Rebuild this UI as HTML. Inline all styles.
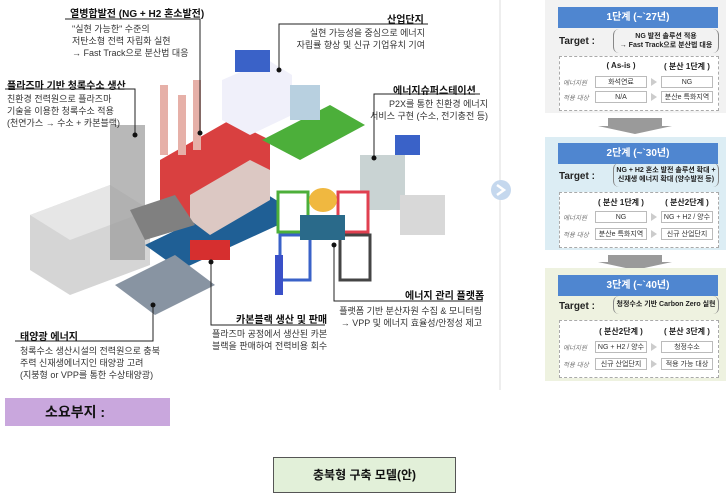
<!DOCTYPE html>
<html><head><meta charset="utf-8"><style>
*{margin:0;padding:0;box-sizing:border-box}
body{width:726px;height:496px;background:#fff;position:relative;overflow:hidden;font-family:"Liberation Sans","Noto Sans CJK KR",sans-serif;color:#333}
.t{position:absolute;font-size:9px;line-height:12px;white-space:nowrap}
.h{position:absolute;font-size:10px;font-weight:bold;color:#111;white-space:nowrap}
.r{text-align:right}
.stage{position:absolute;left:545px;width:181px}
.hd{position:absolute;left:13px;width:160px;height:21px;background:#4f86d0;color:#fff;font-weight:bold;font-size:10px;text-align:center;line-height:21px}
.tg{position:absolute;left:14px;font-weight:bold;font-size:10px;color:#222}
.br{position:absolute;left:68px;width:106px;border-left:1.5px solid #888;border-right:1.5px solid #888;border-radius:6px;font-size:7px;font-weight:bold;text-align:center;line-height:9px;color:#222}
.dash{position:absolute;left:14px;width:160px;border:1px dashed #aaa;background:#fff}
.c{position:absolute;font-size:7px;height:12px;line-height:11px;border:1px solid #bbb;text-align:center;background:#fff;color:#333;white-space:nowrap;overflow:hidden}
.lab{position:absolute;font-size:6.5px;font-style:italic;color:#777}
.ch{position:absolute;font-size:8px;font-weight:bold;text-align:center;color:#222;white-space:nowrap}
.ar{position:absolute;width:0;height:0;border-left:6px solid #ccc;border-top:4px solid transparent;border-bottom:4px solid transparent}
</style></head><body>
<svg width="726" height="496" style="position:absolute;left:0;top:0">
<polygon points="30,215 110,185 150,210 150,265 70,295 30,270" fill="#d5d5d5"/>
<polygon points="30,215 110,185 150,210 70,240" fill="#e6e6e6"/>
<rect x="110" y="125" width="35" height="135" fill="#9a9a9a" opacity=".7"/>
<polygon points="145,245 260,190 300,215 180,270" fill="#1f5f95"/>
<polygon points="160,160 230,120 270,140 270,185 200,225 160,200" fill="#d94040"/>
<polygon points="190,195 250,160 270,170 270,200 210,235 190,220" fill="#dcc8c3"/>
<rect x="160" y="85" width="8" height="70" fill="#e6b0a8"/><rect x="178" y="95" width="8" height="60" fill="#e6b0a8"/><rect x="193" y="80" width="8" height="70" fill="#e6b0a8"/>
<polygon points="222,80 268,60 292,75 292,115 250,135 222,120" fill="#f0f0fa"/>
<rect x="235" y="50" width="35" height="22" fill="#3a62c8"/>
<polygon points="262,140 330,105 365,125 300,160" fill="#4caf3a"/>
<rect x="290" y="85" width="30" height="35" fill="#b8d0e0"/>
<rect x="360" y="155" width="45" height="55" fill="#c9d3d3"/>
<rect x="395" y="135" width="25" height="20" fill="#3a62c8"/>
<polygon points="130,210 175,195 195,225 145,240" fill="#808080"/>
<polygon points="115,285 175,255 215,285 155,315" fill="#8894a2"/>
<rect x="190" y="240" width="40" height="20" fill="#d62f2f"/>
<rect x="278" y="192" width="30" height="40" fill="#fff" stroke="#4caf3a" stroke-width="3"/>
<rect x="338" y="192" width="30" height="40" fill="#fff" stroke="#e04050" stroke-width="3"/>
<rect x="280" y="235" width="30" height="45" fill="#fff" stroke="#3a62c8" stroke-width="3"/>
<rect x="340" y="235" width="30" height="45" fill="#fff" stroke="#444" stroke-width="3"/>
<ellipse cx="323" cy="200" rx="14" ry="12" fill="#f0b840"/>
<rect x="300" y="215" width="45" height="25" fill="#2a6a8a"/>
<rect x="275" y="255" width="8" height="40" fill="#3a50c8"/>
<rect x="400" y="195" width="45" height="40" fill="#d8d8d8"/>
<g stroke="#222" stroke-width="1" fill="none">
<path d="M65,19H200V133"/><path d="M428,24H279V70"/><path d="M5,89H135V135"/>
<path d="M480,94H374V158"/><path d="M483,301H334V245"/><path d="M325,325H211V262"/><path d="M15,341H153V305"/>
</g>
<g fill="#111"><circle cx="200" cy="133" r="2.5"/><circle cx="279" cy="70" r="2.5"/><circle cx="135" cy="135" r="2.5"/><circle cx="374" cy="158" r="2.5"/><circle cx="334" cy="245" r="2.5"/><circle cx="211" cy="262" r="2.5"/><circle cx="153" cy="305" r="2.5"/></g>
<line x1="500" y1="0" x2="500" y2="390" stroke="#ddd"/>
<circle cx="501" cy="190" r="10" fill="#c5d8ee"/>
<path d="M497,185 L504,190 L497,195" stroke="#fff" stroke-width="2.5" fill="none"/>
<polygon points="608,118 662,118 662,126 672,126 635,134 598,126 608,126" fill="#9a9a9a"/>
<polygon points="608,255 662,255 662,262 672,262 635,270 598,262 608,262" fill="#9a9a9a"/>
</svg>

<div class="h" style="left:70px;top:5px">열병합발전 (NG + H2 혼소발전)</div>
<div class="t" style="left:72px;top:23px">"실현 가능한" 수준의<br>저탄소형 전력 자립화 실현<br>→ Fast Track으로 분산법 대응</div>
<div class="h" style="left:387px;top:11px">산업단지</div>
<div class="t r" style="right:301px;top:27px">실현 가능성을 중심으로 에너지<br>자립률 향상 및 신규 기업유치 기여</div>
<div class="h" style="left:7px;top:77px">플라즈마 기반 청록수소 생산</div>
<div class="t" style="left:7px;top:93px">친환경 전력원으로 플라즈마<br>기술을 이용한 청록수소 적용<br>(천연가스 → 수소 + 카본블랙)</div>
<div class="h" style="left:393px;top:82px">에너지슈퍼스테이션</div>
<div class="t r" style="right:238px;top:98px">P2X를 통한 친환경 에너지<br>서비스 구현 (수소, 전기충전 등)</div>
<div class="h" style="left:405px;top:287px">에너지 관리 플랫폼</div>
<div class="t r" style="right:244px;top:305px">플랫폼 기반 분산자원 수집 &amp; 모니터링<br>→ VPP 및 에너지 효율성/안정성 제고</div>
<div class="h" style="left:236px;top:311px">카본블랙 생산 및 판매</div>
<div class="t" style="left:212px;top:328px">플라즈마 공정에서 생산된 카본<br>블랙을 판매하여 전력비용 회수</div>
<div class="h" style="left:20px;top:328px">태양광 에너지</div>
<div class="t" style="left:20px;top:345px">청록수소 생산시설의 전력원으로 충북<br>주력 신재생에너지인 태양광 고려<br>(지붕형 or VPP를 통한 수상태양광)</div>

<div class="stage" style="top:0;height:113px;background:#f2f2f2">
<div class="hd" style="top:7px">1단계 (~`27년)</div>
<div class="tg" style="top:36px">Target :</div>
<div class="br" style="top:29px;height:24px;padding-top:3px">NG 발전 솔루션 적용<br>→ Fast Track으로 분산법 대응</div>
<div class="dash" style="top:56px;height:55px"></div>
<div class="ch" style="left:50px;top:61px;width:52px">( As-is )</div>
<div class="ch" style="left:116px;top:61px;width:52px">( 분산 1단계 )</div>
<div class="lab" style="left:18px;top:77px">에너지원</div><div class="c" style="left:50px;top:76px;width:52px">화석연료</div><div class="ar" style="left:106px;top:78px"></div><div class="c" style="left:116px;top:76px;width:52px">NG</div>
<div class="lab" style="left:18px;top:92px">적용 대상</div><div class="c" style="left:50px;top:91px;width:52px">N/A</div><div class="ar" style="left:106px;top:93px"></div><div class="c" style="left:116px;top:91px;width:52px">분산e 특화지역</div>
</div>
<div class="stage" style="top:137px;height:113px;background:#dcedf4">
<div class="hd" style="top:6px">2단계 (~`30년)</div>
<div class="tg" style="top:34px">Target :</div>
<div class="br" style="top:26px;height:24px;padding-top:3px">NG + H2 혼소 발전 솔루션 확대 +<br>신재생 에너지 확대 (양수발전 등)</div>
<div class="dash" style="top:55px;height:56px"></div>
<div class="ch" style="left:50px;top:60px;width:52px">( 분산 1단계 )</div>
<div class="ch" style="left:116px;top:60px;width:52px">( 분산2단계 )</div>
<div class="lab" style="left:18px;top:75px">에너지원</div><div class="c" style="left:50px;top:74px;width:52px">NG</div><div class="ar" style="left:106px;top:76px"></div><div class="c" style="left:116px;top:74px;width:52px">NG + H2 / 양수</div>
<div class="lab" style="left:18px;top:92px">적용 대상</div><div class="c" style="left:50px;top:91px;width:52px">분산e 특화지역</div><div class="ar" style="left:106px;top:93px"></div><div class="c" style="left:116px;top:91px;width:52px">신규 산업단지</div>
</div>
<div class="stage" style="top:268px;height:113px;background:#eef2e0">
<div class="hd" style="top:7px">3단계 (~`40년)</div>
<div class="tg" style="top:33px">Target :</div>
<div class="br" style="top:28px;height:18px;line-height:18px">청정수소 기반 Carbon Zero 실현</div>
<div class="dash" style="top:52px;height:58px"></div>
<div class="ch" style="left:50px;top:58px;width:52px">( 분산2단계 )</div>
<div class="ch" style="left:116px;top:58px;width:52px">( 분산 3단계 )</div>
<div class="lab" style="left:18px;top:74px">에너지원</div><div class="c" style="left:50px;top:73px;width:52px">NG + H2 / 양수</div><div class="ar" style="left:106px;top:75px"></div><div class="c" style="left:116px;top:73px;width:52px">청정수소</div>
<div class="lab" style="left:18px;top:91px">적용 대상</div><div class="c" style="left:50px;top:90px;width:52px">신규 산업단지</div><div class="ar" style="left:106px;top:92px"></div><div class="c" style="left:116px;top:90px;width:52px">적용 가능 대상</div>
</div>

<div style="position:absolute;left:5px;top:398px;width:165px;height:28px;background:#c9a7dd;font-weight:bold;font-size:14px;line-height:28px;padding-left:40px;color:#111">소요부지 :</div>
<div style="position:absolute;left:273px;top:457px;width:183px;height:36px;background:#e2f0d9;border:1px solid #555;font-weight:bold;font-size:12px;line-height:34px;text-align:center;color:#111">충북형 구축 모델(안)</div>
</body></html>
